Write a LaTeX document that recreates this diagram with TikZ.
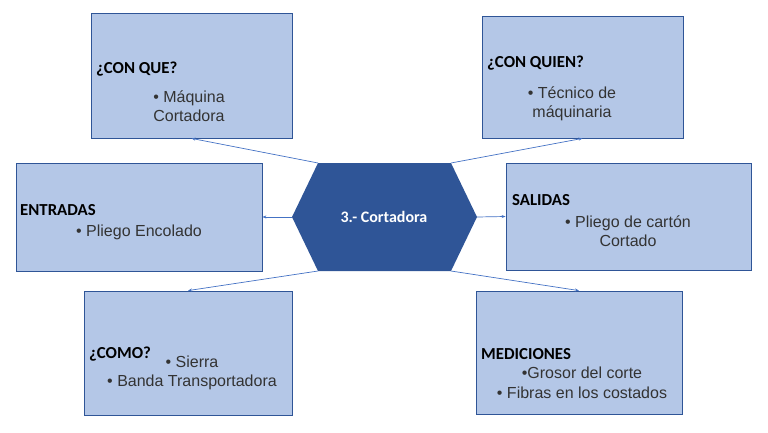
\documentclass[tikz,border=0pt]{standalone}
\usepackage{fontspec}
\setmainfont{Liberation Sans}
\newfontfamily\titlefont{Carlito}
\usepackage{tikz}
\usetikzlibrary{positioning,arrows.meta}

\definecolor{boxfill}{HTML}{B4C7E7}
\definecolor{boxline}{HTML}{2F5597}
\definecolor{hexfill}{HTML}{2F5597}
\definecolor{arrowblue}{HTML}{4472C4}
\definecolor{bodytext}{HTML}{333333}

\begin{document}
\begin{tikzpicture}[x=1pt, y=-1pt, >={Stealth[length=4pt,width=3pt]},
  box/.style={draw=boxline, fill=boxfill, line width=0.8pt, inner sep=0pt},
  title/.style={anchor=west, inner sep=0pt, font=\titlefont\bfseries\fontsize{16.8}{19}\selectfont},
  body/.style={align=center, inner sep=0pt, text=bodytext, font=\fontsize{16}{19.5}\selectfont},
  link/.style={->, draw=arrowblue, line width=0.7pt}]
\useasboundingbox (0,0) rectangle (768,433);

% outer boxes
\node[box, minimum width=201pt, minimum height=125pt] (conque) at (191.5,75.5) {};
\node[box, minimum width=201pt, minimum height=122pt] (conquien) at (582.5,77) {};
\node[box, minimum width=246pt, minimum height=108pt] (entradas) at (139,217) {};
\node[box, minimum width=245pt, minimum height=107pt] (salidas) at (628.5,216.5) {};
\node[box, minimum width=208pt, minimum height=124pt] (como) at (188,353) {};
\node[box, minimum width=206pt, minimum height=123pt] (mediciones) at (579,352.5) {};

% hexagon
\coordinate (hL) at (292,217);
\coordinate (hTL) at (318,163);
\coordinate (hTR) at (451,163);
\coordinate (hR) at (477,217);
\coordinate (hBR) at (451,271);
\coordinate (hBL) at (318,271);
\fill[hexfill] (hL) -- (hTL) -- (hTR) -- (hR) -- (hBR) -- (hBL) -- cycle;
\node[inner sep=0pt, text=white, font=\titlefont\bfseries\fontsize{16}{19}\selectfont] (proceso) at (384,217) {3.- Cortadora};

% titles
\node[title] (tconque) at (96,69) {¿CON QUE?};
\node[title] (tconquien) at (487,63) {¿CON QUIEN?};
\node[title] (tentradas) at (20,210) {ENTRADAS};
\node[title] (tsalidas) at (512,200) {SALIDAS};
\node[title] (tcomo) at (89,354) {¿COMO?};
\node[title] (tmediciones) at (481,354) {MEDICIONES};

% contents
\node[body] (bconque) at (189,106) {• Máquina\\Cortadora};
\node[body] (bconquien) at (572,104) {• Técnico de\\máquinaria};
\node[body] (bentradas) at (139,232) {• Pliego Encolado};
\node[body] (bsalidas) at (628,231) {• Pliego de cartón\\Cortado};
\node[body] (bcomo) at (192,373) {• Sierra\\• Banda Transportadora};
\node[body] (bmediciones) at (582,383) {•Grosor del corte\\• Fibras en los costados};

% connectors
\draw[link] (hTL) -- (conque.south);
\draw[link] (hTR) -- (conquien.south);
\draw[link] (hL) -- (entradas.east);
\draw[link] (hR) -- (salidas.west);
\draw[link] (hBL) -- (como.north);
\draw[link] (hBR) -- (mediciones.north);
\end{tikzpicture}
\end{document}
